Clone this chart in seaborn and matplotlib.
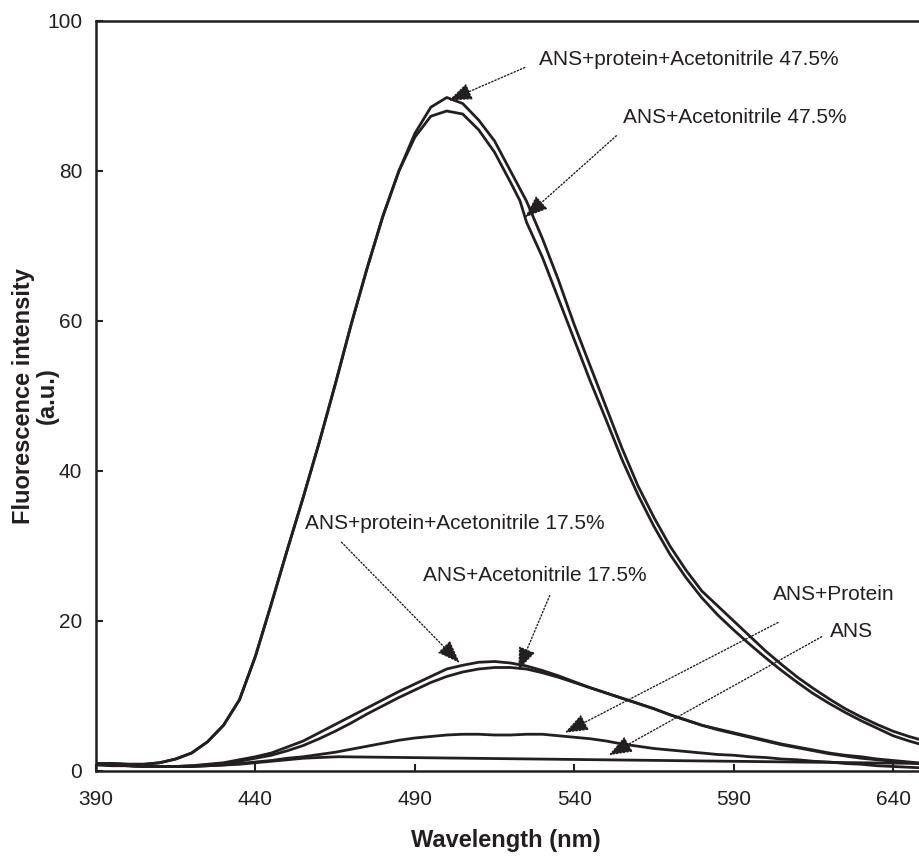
import matplotlib
matplotlib.use("Agg")
import matplotlib.pyplot as plt
import seaborn as sns
import pandas as pd

# ---------------- data ----------------
wavelength = list(range(390, 655, 5))

p47 = [1.0, 1.0, 0.9, 0.9, 1.1, 1.6, 2.4, 3.9, 6.1, 9.5,
       15.3, 22.3, 29.5, 36.5, 43.8, 51.5, 59.5, 67.0, 74.0, 80.0,
       85.0, 88.5, 89.8, 89.0, 86.8, 84.0, 80.0, 76.0, 71.0, 65.5,
       59.5, 54.0, 48.5, 43.0, 38.0, 33.8, 30.0, 26.8, 24.0, 22.0,
       20.0, 18.0, 16.0, 14.2, 12.5, 11.0, 9.6, 8.3, 7.2, 6.2,
       5.3, 4.6, 4.0]

a47_wavelength = list(range(390, 525, 5)) + [523, 525] + list(range(530, 655, 5))
a47 = [1.0, 1.0, 0.9, 0.9, 1.1, 1.6, 2.4, 3.9, 6.1, 9.5,
       15.3, 22.3, 29.5, 36.5, 43.8, 51.5, 59.5, 67.0, 74.0, 80.0,
       84.5, 87.3, 88.0, 87.6, 85.5, 82.5, 78.5, 76.0, 73.2, 68.5, 63.0,
       57.5, 52.0, 46.8, 41.5, 36.8, 32.6, 28.9, 25.8, 23.1, 20.8,
       18.8, 16.9, 15.1, 13.4, 11.8, 10.3, 9.0, 7.8, 6.7, 5.7,
       4.7, 4.0, 3.4]

p17 = [0.9, 0.8, 0.7, 0.6, 0.6, 0.6, 0.7, 0.9, 1.1, 1.5,
       1.9, 2.4, 3.2, 4.0, 5.1, 6.2, 7.3, 8.4, 9.5, 10.6,
       11.6, 12.6, 13.6, 14.1, 14.5, 14.6, 14.4, 14.0, 13.4, 12.7,
       11.9, 11.1, 10.4, 9.7, 9.0, 8.3, 7.5, 6.8, 6.1, 5.6,
       5.1, 4.6, 4.1, 3.6, 3.2, 2.8, 2.4, 2.1, 1.9, 1.6,
       1.4, 1.2, 1.0]

a17 = [0.8, 0.7, 0.7, 0.6, 0.6, 0.6, 0.7, 0.8, 1.0, 1.3,
       1.7, 2.1, 2.7, 3.4, 4.3, 5.3, 6.4, 7.6, 8.7, 9.8,
       10.8, 11.8, 12.6, 13.2, 13.6, 13.8, 13.8, 13.6, 13.1, 12.5,
       11.8, 11.1, 10.4, 9.7, 9.0, 8.3, 7.5, 6.8, 6.1, 5.5,
       5.0, 4.5, 4.0, 3.5, 3.1, 2.7, 2.3, 2.0, 1.7, 1.5,
       1.3, 1.1, 0.9]

ans_protein = [0.9, 0.8, 0.7, 0.6, 0.6, 0.6, 0.6, 0.7, 0.8, 1.0,
               1.2, 1.4, 1.7, 1.9, 2.2, 2.5, 2.9, 3.3, 3.7, 4.1,
               4.4, 4.6, 4.8, 4.9, 4.9, 4.8, 4.8, 4.9, 4.9, 4.7,
               4.5, 4.3, 4.0, 3.6, 3.3, 3.0, 2.8, 2.6, 2.4, 2.2,
               2.1, 1.9, 1.8, 1.6, 1.5, 1.3, 1.2, 1.0, 0.9, 0.7,
               0.6, 0.5, 0.4]

ans_wavelength = [390, 395, 400, 405, 410, 415, 420, 425, 430, 435,
                  440, 445, 450, 455, 460, 466, 650]
ans = [1.0, 0.9, 0.8, 0.7, 0.6, 0.6, 0.6, 0.7, 0.8, 0.9,
       1.1, 1.3, 1.5, 1.7, 1.8, 1.9, 1.0]

series_names = ["ANS+protein+Acetonitrile 47.5%", "ANS+Acetonitrile 47.5%",
                "ANS+protein+Acetonitrile 17.5%", "ANS+Acetonitrile 17.5%",
                "ANS+Protein", "ANS"]

# label text anchor (left, centre) and arrow (start -> tip), in data units
label_pos = [(529.0, 94.9), (555.2, 87.1), (455.5, 33.0),
             (492.5, 26.1), (602.2, 23.6), (620.1, 18.6)]
arrow_start = [(524.5, 93.8), (553.2, 84.7), (467.0, 30.5),
               (532.3, 23.4), (603.9, 19.8), (617.6, 17.9)]
arrow_tip = [(500.6, 89.4), (524.5, 73.8), (504.1, 14.4),
             (522.4, 13.4), (537.0, 5.1), (550.8, 2.1)]

x_ticks = [390, 440, 490, 540, 590, 640]
y_ticks = [0, 20, 40, 60, 80, 100]

# ---------------- build long table ----------------
series_x = [wavelength, a47_wavelength, wavelength, wavelength, wavelength, ans_wavelength]
series_y = [p47, a47, p17, a17, ans_protein, ans]
frames = []
for name, xs, ys in zip(series_names, series_x, series_y):
    frames.append(pd.DataFrame({"wavelength": xs, "intensity": ys, "series": name}))
df = pd.concat(frames, ignore_index=True)

# ---------------- plot ----------------
sns.set_theme(style="ticks")
plt.rcParams["font.family"] = ["Liberation Sans", "DejaVu Sans"]

INK = "#231f20"
fig = plt.figure(figsize=(9.2, 8.67), dpi=100)
ax = fig.add_axes([96 / 920, 96 / 867, 829 / 920, 750 / 867])

sns.lineplot(data=df, x="wavelength", y="intensity", units="series",
             estimator=None, color=INK, linewidth=2.0, ax=ax, legend=False)

ax.set_xlim(390, 650)
ax.set_ylim(0, 100)
ax.set_xticks(x_ticks)
ax.set_yticks(y_ticks)
ax.tick_params(direction="in", length=5, width=1.5, colors=INK,
               labelsize=15, labelcolor=INK)
ax.tick_params(axis="x", pad=14)
ax.tick_params(axis="y", pad=10)
for sp in ax.spines.values():
    sp.set_linewidth(1.8)
    sp.set_color(INK)

ax.set_xlabel("Wavelength (nm)", fontsize=17, fontweight="bold", color=INK)
ax.set_ylabel("Fluorescence intensity\n(a.u.)", fontsize=17, fontweight="bold",
              color=INK, linespacing=1.05)
ax.xaxis.set_label_coords((506 - 96) / 829, -(840 - 771) / 750)
ax.xaxis.label.set_va("center")
ax.yaxis.set_label_coords((35 - 96) / 829, 0.5)
ax.yaxis.label.set_va("center")

for name, lp, st, tp in zip(series_names, label_pos, arrow_start, arrow_tip):
    ax.text(lp[0], lp[1], name, fontsize=15, color=INK, ha="left", va="center")
    ax.annotate("", xy=tp, xytext=st,
                arrowprops=dict(arrowstyle="-|>,head_length=0.8,head_width=0.3",
                                linestyle=(0, (1, 1.5)), lw=1.0, color=INK,
                                shrinkA=0, shrinkB=0, mutation_scale=18))

fig.savefig("out.png", dpi=100)
